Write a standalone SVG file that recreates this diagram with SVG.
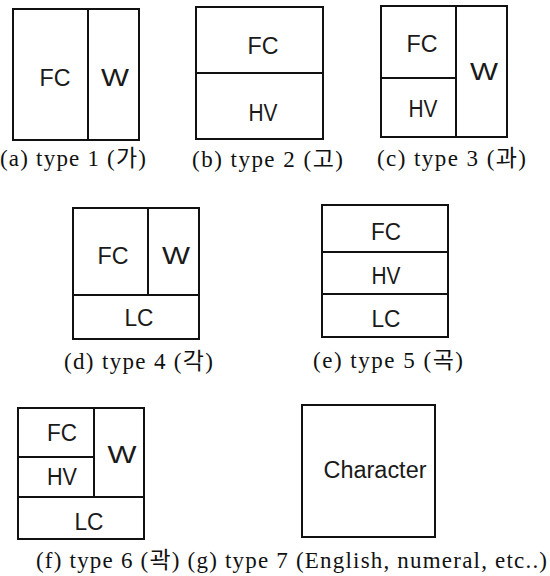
<svg xmlns="http://www.w3.org/2000/svg" width="550" height="576" viewBox="0 0 550 576">
  <style>
    .box { fill: none; stroke: #111; stroke-width: 2; }
    .div { stroke: #111; stroke-width: 2; fill: none; }
    .lbl { font-family: "Liberation Sans", Arial, sans-serif; font-size: 23px; fill: #1a1a1a; text-anchor: middle; dominant-baseline: central; }
    .cap { font-family: "Liberation Serif", "Noto Sans CJK KR", serif; font-size: 23px; fill: #111; }
  </style>
  <rect width="550" height="576" fill="#fff"/>

  <!-- (a) type 1 -->
  <g id="type1">
    <rect class="box" x="13" y="9" width="126" height="131"/>
    <line class="div" x1="88" y1="9" x2="88" y2="140"/>
    <text class="lbl" x="55" y="78" textLength="31" lengthAdjust="spacingAndGlyphs">FC</text>
    <text class="lbl" x="115" y="78" textLength="28" lengthAdjust="spacingAndGlyphs">W</text>
    <text class="cap" x="0" y="166" textLength="146" lengthAdjust="spacing">(a) type 1 (가)</text>
  </g>

  <!-- (b) type 2 -->
  <g id="type2">
    <rect class="box" x="196" y="7" width="127" height="132"/>
    <line class="div" x1="196" y1="73" x2="323" y2="73"/>
    <text class="lbl" x="263" y="46" textLength="31" lengthAdjust="spacingAndGlyphs">FC</text>
    <text class="lbl" x="263" y="113" textLength="29" lengthAdjust="spacingAndGlyphs">HV</text>
    <text class="cap" x="192" y="167" textLength="151" lengthAdjust="spacing">(b) type 2 (고)</text>
  </g>

  <!-- (c) type 3 -->
  <g id="type3">
    <rect class="box" x="381" y="6" width="126" height="131"/>
    <line class="div" x1="456" y1="6" x2="456" y2="137"/>
    <line class="div" x1="381" y1="78" x2="456" y2="78"/>
    <text class="lbl" x="422" y="44" textLength="31" lengthAdjust="spacingAndGlyphs">FC</text>
    <text class="lbl" x="423" y="109" textLength="29" lengthAdjust="spacingAndGlyphs">HV</text>
    <text class="lbl" x="484" y="72" textLength="28" lengthAdjust="spacingAndGlyphs">W</text>
    <text class="cap" x="377" y="166" textLength="149" lengthAdjust="spacing">(c) type 3 (과)</text>
  </g>

  <!-- (d) type 4 -->
  <g id="type4">
    <rect class="box" x="73" y="208" width="126" height="131"/>
    <line class="div" x1="148" y1="208" x2="148" y2="295"/>
    <line class="div" x1="73" y1="295" x2="199" y2="295"/>
    <text class="lbl" x="113" y="256" textLength="31" lengthAdjust="spacingAndGlyphs">FC</text>
    <text class="lbl" x="176" y="256" textLength="28" lengthAdjust="spacingAndGlyphs">W</text>
    <text class="lbl" x="139" y="318" textLength="29" lengthAdjust="spacingAndGlyphs">LC</text>
    <text class="cap" x="64" y="369" textLength="149" lengthAdjust="spacing">(d) type 4 (각)</text>
  </g>

  <!-- (e) type 5 -->
  <g id="type5">
    <rect class="box" x="322" y="205" width="126" height="132"/>
    <line class="div" x1="322" y1="252" x2="448" y2="252"/>
    <line class="div" x1="322" y1="294" x2="448" y2="294"/>
    <text class="lbl" x="386" y="232" textLength="30" lengthAdjust="spacingAndGlyphs">FC</text>
    <text class="lbl" x="386" y="276" textLength="29" lengthAdjust="spacingAndGlyphs">HV</text>
    <text class="lbl" x="386" y="319" textLength="29" lengthAdjust="spacingAndGlyphs">LC</text>
    <text class="cap" x="313" y="368" textLength="150" lengthAdjust="spacing">(e) type 5 (곡)</text>
  </g>

  <!-- (f) type 6 -->
  <g id="type6">
    <rect class="box" x="18" y="408" width="126" height="131"/>
    <line class="div" x1="94" y1="408" x2="94" y2="497"/>
    <line class="div" x1="18" y1="457" x2="94" y2="457"/>
    <line class="div" x1="18" y1="497" x2="144" y2="497"/>
    <text class="lbl" x="62" y="433" textLength="30" lengthAdjust="spacingAndGlyphs">FC</text>
    <text class="lbl" x="62" y="477" textLength="30" lengthAdjust="spacingAndGlyphs">HV</text>
    <text class="lbl" x="122" y="455" textLength="29" lengthAdjust="spacingAndGlyphs">W</text>
    <text class="lbl" x="89" y="522" textLength="29" lengthAdjust="spacingAndGlyphs">LC</text>
  </g>

  <!-- (g) type 7 -->
  <g id="type7">
    <rect class="box" x="302" y="405" width="133" height="132"/>
    <text class="lbl" x="375" y="470" textLength="103" lengthAdjust="spacingAndGlyphs">Character</text>
  </g>

  <!-- shared caption line for (f) and (g) -->
  <text class="cap" x="36" y="568" textLength="511" lengthAdjust="spacing">(f) type 6 (곽) (g) type 7 (English, numeral, etc..)</text>
</svg>
